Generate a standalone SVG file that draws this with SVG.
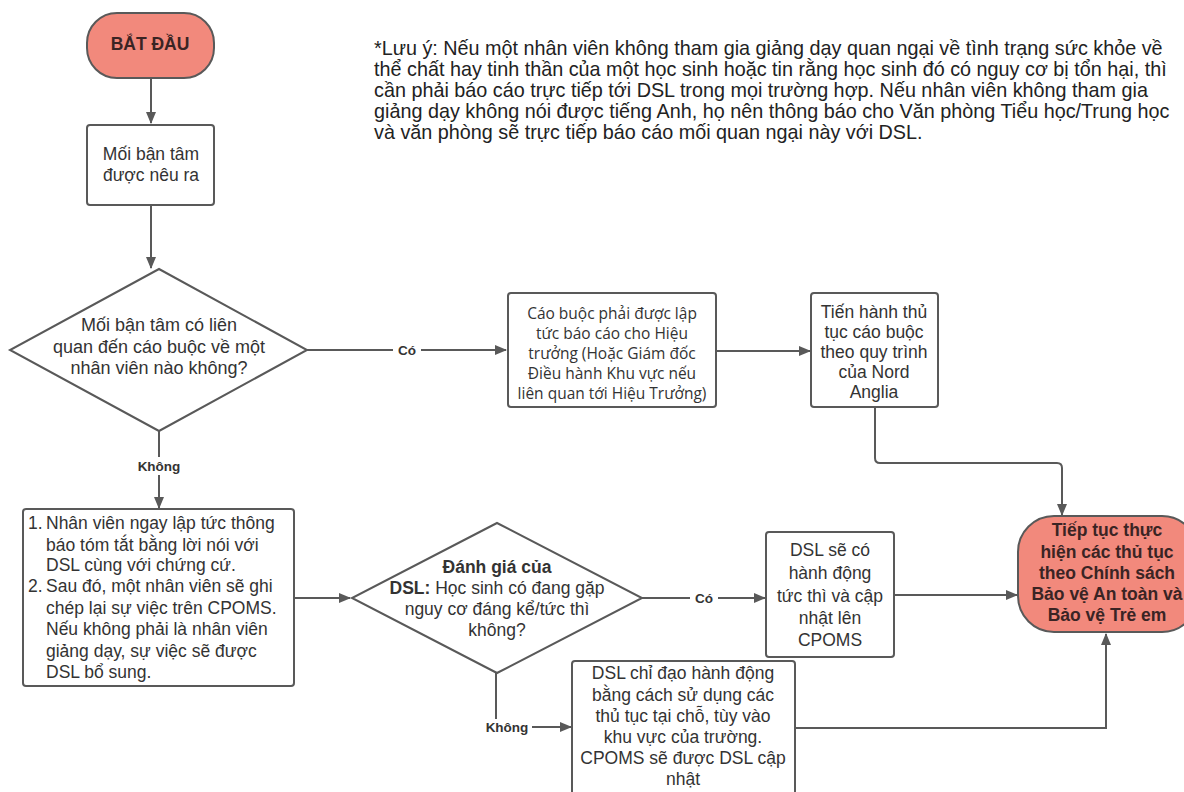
<svg xmlns="http://www.w3.org/2000/svg" width="1184" height="792" viewBox="0 0 1184 792">
<style>
.box{fill:#ffffff;stroke:#595959;stroke-width:2}
.term{fill:#f2897c;stroke:#595959;stroke-width:2}
.t{font-family:"Liberation Sans",Arial,sans-serif;font-size:17.5px;fill:#333333;text-anchor:middle;dominant-baseline:central}
.tl{font-family:"Liberation Sans",Arial,sans-serif;font-size:17.5px;fill:#333333;dominant-baseline:central}
.os{font-family:"Open Sans","Noto Sans",sans-serif;font-size:15.5px;fill:#333333;text-anchor:middle;dominant-baseline:central}
.tb{font-family:"Liberation Sans",Arial,sans-serif;font-size:17.5px;font-weight:bold;fill:#3a2424;text-anchor:middle;dominant-baseline:central}
.lbl{font-family:"Liberation Sans",Arial,sans-serif;font-size:13.5px;font-weight:bold;fill:#333333;text-anchor:middle;dominant-baseline:central}
.note{font-family:"Liberation Sans",Arial,sans-serif;font-size:19.8px;fill:#222222}
.c{fill:none;stroke:#595959;stroke-width:2}
</style>
<defs>
<marker id="ah" markerWidth="12" markerHeight="10" refX="11" refY="5" orient="auto" markerUnits="userSpaceOnUse">
<path d="M0,0 L12,5 L0,10 Z" fill="#595959"/>
</marker>
</defs>
<rect width="1184" height="792" fill="#ffffff"/>

<g id="connectors">
<path class="c" d="M151,78 V123" marker-end="url(#ah)"/>
<path class="c" d="M151,205 V268" marker-end="url(#ah)"/>
<path class="c" d="M307,350 H506" marker-end="url(#ah)"/>
<path class="c" d="M716,351 H810" marker-end="url(#ah)"/>
<path class="c" d="M875,407 V458 Q875,463 880,463 H1057 Q1062,463 1062,468 V515" marker-end="url(#ah)"/>
<path class="c" d="M159,431 V508" marker-end="url(#ah)"/>
<path class="c" d="M294,598 H350" marker-end="url(#ah)"/>
<path class="c" d="M642,598 H765" marker-end="url(#ah)"/>
<path class="c" d="M894,595 H1017" marker-end="url(#ah)"/>
<path class="c" d="M496,673 V727 H571" marker-end="url(#ah)"/>
<path class="c" d="M795,728 H1106 V634" marker-end="url(#ah)"/>
<rect x="393" y="342" width="28" height="16" fill="#ffffff"/>
<text class="lbl" x="407" y="350">Có</text>
<rect x="134" y="457" width="50" height="18" fill="#ffffff"/>
<text class="lbl" x="159" y="466">Không</text>
<rect x="690" y="590" width="28" height="16" fill="#ffffff"/>
<text class="lbl" x="704" y="598">Có</text>
<rect x="482" y="719" width="50" height="16" fill="#ffffff"/>
<text class="lbl" x="507" y="727">Không</text>
</g>

<g id="note">
<text class="note">
<tspan x="374" y="55">*Lưu ý: Nếu một nhân viên không tham gia giảng dạy quan ngại về tình trạng sức khỏe về</tspan>
<tspan x="374" y="76">thể chất hay tinh thần của một học sinh hoặc tin rằng học sinh đó có nguy cơ bị tổn hại, thì</tspan>
<tspan x="374" y="97">cần phải báo cáo trực tiếp tới DSL trong mọi trường hợp. Nếu nhân viên không tham gia</tspan>
<tspan x="374" y="118">giảng dạy không nói được tiếng Anh, họ nên thông báo cho Văn phòng Tiểu học/Trung học</tspan>
<tspan x="374" y="139">và văn phòng sẽ trực tiếp báo cáo mối quan ngại này với DSL.</tspan>
</text>
</g>

<g id="start">
<rect class="term" x="87" y="13" width="127" height="65" rx="30" ry="30"/>
<text class="tb" x="150" y="44">BẮT ĐẦU</text>
</g>

<g id="concern">
<rect class="box" x="87" y="125" width="127" height="80" rx="3"/>
<text class="t" x="151" y="154">Mối bận tâm</text>
<text class="t" x="151" y="175">được nêu ra</text>
</g>

<g id="decision1">
<polygon class="box" points="159,269 307,350 159,431 10,350"/>
<text class="t" x="159" y="325" style="font-size:18px">Mối bận tâm có liên</text>
<text class="t" x="159" y="347" style="font-size:18px">quan đến cáo buộc về một</text>
<text class="t" x="159" y="368" style="font-size:18px">nhân viên nào không?</text>
</g>

<g id="report-head">
<rect class="box" x="508" y="293" width="208" height="114" rx="3"/>
<text class="os" x="612" y="313">Cáo buộc phải được lập</text>
<text class="os" x="612" y="333">tức báo cáo cho Hiệu</text>
<text class="os" x="612" y="353">trưởng (Hoặc Giám đốc</text>
<text class="os" x="612" y="373">Điều hành Khu vực nếu</text>
<text class="os" x="612" y="393">liên quan tới Hiệu Trưởng)</text>
</g>

<g id="allegation">
<rect class="box" x="811" y="293" width="127" height="114" rx="3"/>
<text class="t" x="874" y="312">Tiến hành thủ</text>
<text class="t" x="874" y="332">tục cáo buộc</text>
<text class="t" x="874" y="352">theo quy trình</text>
<text class="t" x="874" y="372">của Nord</text>
<text class="t" x="874" y="392">Anglia</text>
</g>

<g id="staff-steps">
<rect class="box" x="23" y="509" width="271" height="177" rx="3"/>
<text class="tl" x="28" y="523">1.</text>
<text class="tl" x="46" y="523">Nhân viên ngay lập tức thông</text>
<text class="tl" x="46" y="545">báo tóm tắt bằng lời nói với</text>
<text class="tl" x="46" y="565">DSL cùng với chứng cứ.</text>
<text class="tl" x="28" y="586">2.</text>
<text class="tl" x="46" y="586">Sau đó, một nhân viên sẽ ghi</text>
<text class="tl" x="46" y="608">chép lại sự việc trên CPOMS.</text>
<text class="tl" x="46" y="629">Nếu không phải là nhân viên</text>
<text class="tl" x="46" y="651">giảng dạy, sự việc sẽ được</text>
<text class="tl" x="46" y="672">DSL bổ sung.</text>
</g>

<g id="decision2">
<polygon class="box" points="497,523 642,598 497,673 352,598"/>
<text class="tb" x="497" y="567" style="fill:#333333">Đánh giá của</text>
<text class="t" x="497" y="588"><tspan font-weight="bold">DSL:</tspan> Học sinh có đang gặp</text>
<text class="t" x="497" y="609">nguy cơ đáng kể/tức thì</text>
<text class="t" x="497" y="630">không?</text>
</g>

<g id="immediate">
<rect class="box" x="766" y="532" width="128" height="125" rx="3"/>
<text class="t" x="830" y="550">DSL sẽ có</text>
<text class="t" x="830" y="573">hành động</text>
<text class="t" x="830" y="596">tức thì và cập</text>
<text class="t" x="830" y="618">nhật lên</text>
<text class="t" x="830" y="640">CPOMS</text>
</g>

<g id="local">
<rect class="box" x="572" y="661" width="223" height="140" rx="3"/>
<text class="t" x="683" y="673">DSL chỉ đạo hành động</text>
<text class="t" x="683" y="695">bằng cách sử dụng các</text>
<text class="t" x="683" y="716">thủ tục tại chỗ, tùy vào</text>
<text class="t" x="683" y="737">khu vực của trường.</text>
<text class="t" x="683" y="758">CPOMS sẽ được DSL cập</text>
<text class="t" x="683" y="779">nhật</text>
</g>

<g id="continue">
<rect class="term" x="1018" y="516" width="180" height="116" rx="36" ry="36"/>
<text class="tb" x="1107" y="530">Tiếp tục thực</text>
<text class="tb" x="1107" y="552">hiện các thủ tục</text>
<text class="tb" x="1107" y="573">theo Chính sách</text>
<text class="tb" x="1107" y="594">Bảo vệ An toàn và</text>
<text class="tb" x="1107" y="615">Bảo vệ Trẻ em</text>
</g>
</svg>
